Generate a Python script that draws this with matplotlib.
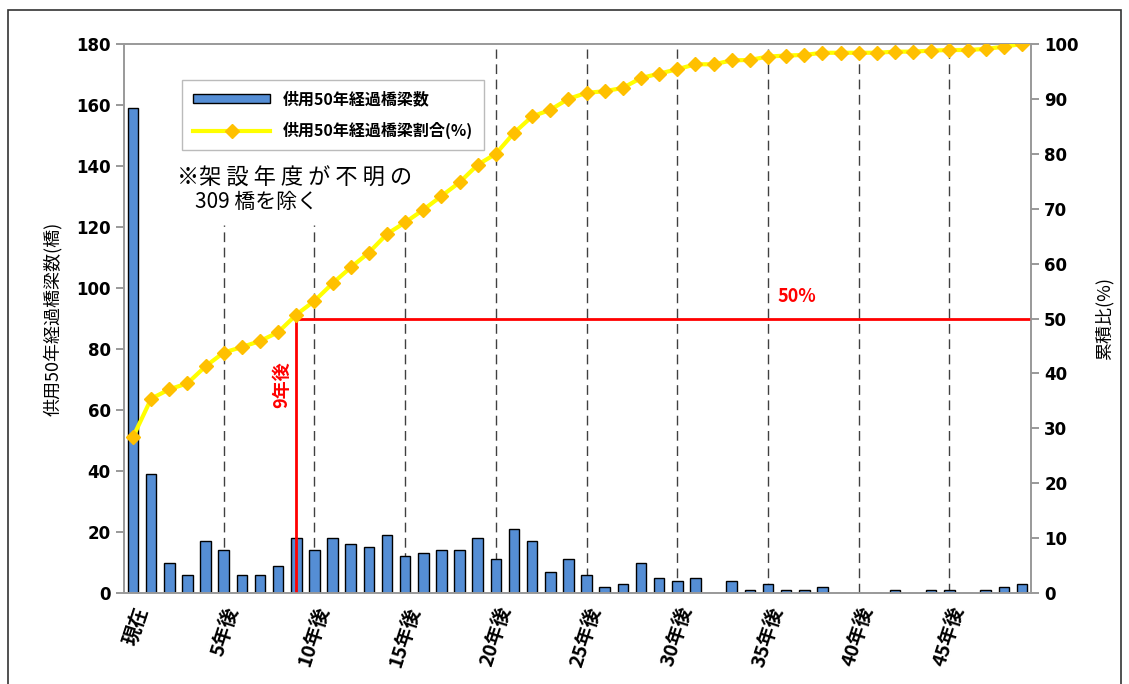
import numpy as np
import matplotlib
matplotlib.use("Agg")
import matplotlib.pyplot as plt
from matplotlib.patches import Rectangle

plt.rcParams['font.family'] = ['Noto Sans CJK JP', 'DejaVu Sans']

# 経過年数ごとの橋梁数 (0=現在 ... 49年後)
years = list(range(50))
counts = [159, 39, 10, 6, 17, 14, 6, 6, 9, 18,
          14, 18, 16, 15, 19, 12, 13, 14, 14, 18,
          11, 21, 17, 7, 11, 6, 2, 3, 10, 5,
          4, 5, 0, 4, 1, 3, 1, 1, 2, 0,
          0, 0, 1, 0, 1, 1, 0, 1, 2, 3]
# 累積比 (%)
ratio = [28.4, 35.4, 37.1, 38.2, 41.3, 43.8, 44.8, 45.9, 47.5, 50.7,
         53.2, 56.4, 59.3, 62.0, 65.4, 67.5, 69.8, 72.3, 74.8, 78.0,
         80.0, 83.8, 86.8, 88.0, 90.0, 91.1, 91.4, 92.0, 93.8, 94.6,
         95.4, 96.3, 96.3, 97.0, 97.1, 97.7, 97.9, 98.0, 98.4, 98.4,
         98.4, 98.4, 98.6, 98.6, 98.8, 98.9, 98.9, 99.1, 99.5, 100.0]
tick_pos = [0, 5, 10, 15, 20, 25, 30, 35, 40, 45]
tick_labels = ['現在', '5年後', '10年後', '15年後', '20年後',
               '25年後', '30年後', '35年後', '40年後', '45年後']
guide_short = [5, 10, 15]
guide_long = [20, 25, 30, 35, 40, 45]
year_50 = 9

fig = plt.figure(figsize=(11.29, 6.84), dpi=100)
ax = fig.add_axes([0.1098, 0.133, 0.8034, 0.8027])
ax2 = ax.twinx()

# outer frame
fig.patches.append(Rectangle((0.007, -0.05), 0.986, 1.035, transform=fig.transFigure,
                             fill=False, edgecolor='#333333', linewidth=1.2))

ax.bar(years, counts, width=0.58, color='#558ED5', edgecolor='black', linewidth=1.0,
       label='供用50年経過橋梁数', zorder=2)

for x in guide_short:
    ax.plot([x, x], [0, 120.5], color='#404040', linestyle=(0, (7, 4)), linewidth=1, zorder=1)
for x in guide_long:
    ax.plot([x, x], [0, 178.5], color='#404040', linestyle=(0, (7, 4)), linewidth=1, zorder=1)

ax.set_xlim(-0.5, 49.5)
ax.set_ylim(0, 180)
ax.set_yticks(np.arange(0, 181, 20))
ax.set_xticks(tick_pos)
ax.set_xticklabels(tick_labels, rotation=72, ha='right', va='top',
                   rotation_mode='anchor', fontsize=14, fontweight='bold')
ax.tick_params(axis='x', length=0, pad=8)
ax.tick_params(axis='y', length=6, color='#888888', width=1.2)
for t in ax.get_yticklabels():
    t.set_fontweight('bold')
    t.set_fontfamily('DejaVu Sans')
    t.set_fontsize(12)
ax.set_ylabel('供用50年経過橋梁数(橋)', fontsize=13, labelpad=10)

ax2.plot(years, ratio, color='#FFFF00', linewidth=3, marker='D', markersize=7,
         markerfacecolor='#FFC000', markeredgecolor='#FFC000',
         label='供用50年経過橋梁割合(%)', zorder=3)
ax2.plot([year_50, year_50], [0, 50], color='red', linewidth=2, zorder=2)
ax2.plot([year_50, 49.5], [50, 50], color='red', linewidth=2, zorder=2)
ax2.set_ylim(0, 100)
ax2.set_yticks(np.arange(0, 101, 10))
ax2.tick_params(axis='y', length=6, color='#888888', width=1.2)
for t in ax2.get_yticklabels():
    t.set_fontweight('bold')
    t.set_fontfamily('DejaVu Sans')
    t.set_fontsize(12)
ax2.set_ylabel('累積比(%)', fontsize=13, labelpad=12)

for a in (ax, ax2):
    for s in a.spines.values():
        s.set_color('#999999')
        s.set_linewidth(1.2)

ax2.text(year_50 - 0.8, 38, '9年後', color='red', fontsize=13, fontweight='bold',
         rotation=90, ha='center', va='center')
ax2.text(36.6, 54, '50%', color='red', fontsize=13, fontweight='bold',
         ha='center', va='center')

ax.text(2.45, 136, '※架 設 年 度 が 不 明 の', fontsize=16, ha='left', va='center')
ax.text(3.4, 128.3, '309 橋を除く', fontsize=15, ha='left', va='center')

h1, l1 = ax.get_legend_handles_labels()
h2, l2 = ax2.get_legend_handles_labels()
leg = ax2.legend(h1 + h2, l1 + l2, loc='upper left', bbox_to_anchor=(0.064, 0.934),
                 prop={'size': 11.5, 'weight': 'bold'}, fancybox=False,
                 edgecolor='#AAAAAA', borderpad=0.7, labelspacing=0.9,
                 handlelength=4.8, handleheight=0.5, borderaxespad=0)

fig.savefig('out.png', dpi=100)
